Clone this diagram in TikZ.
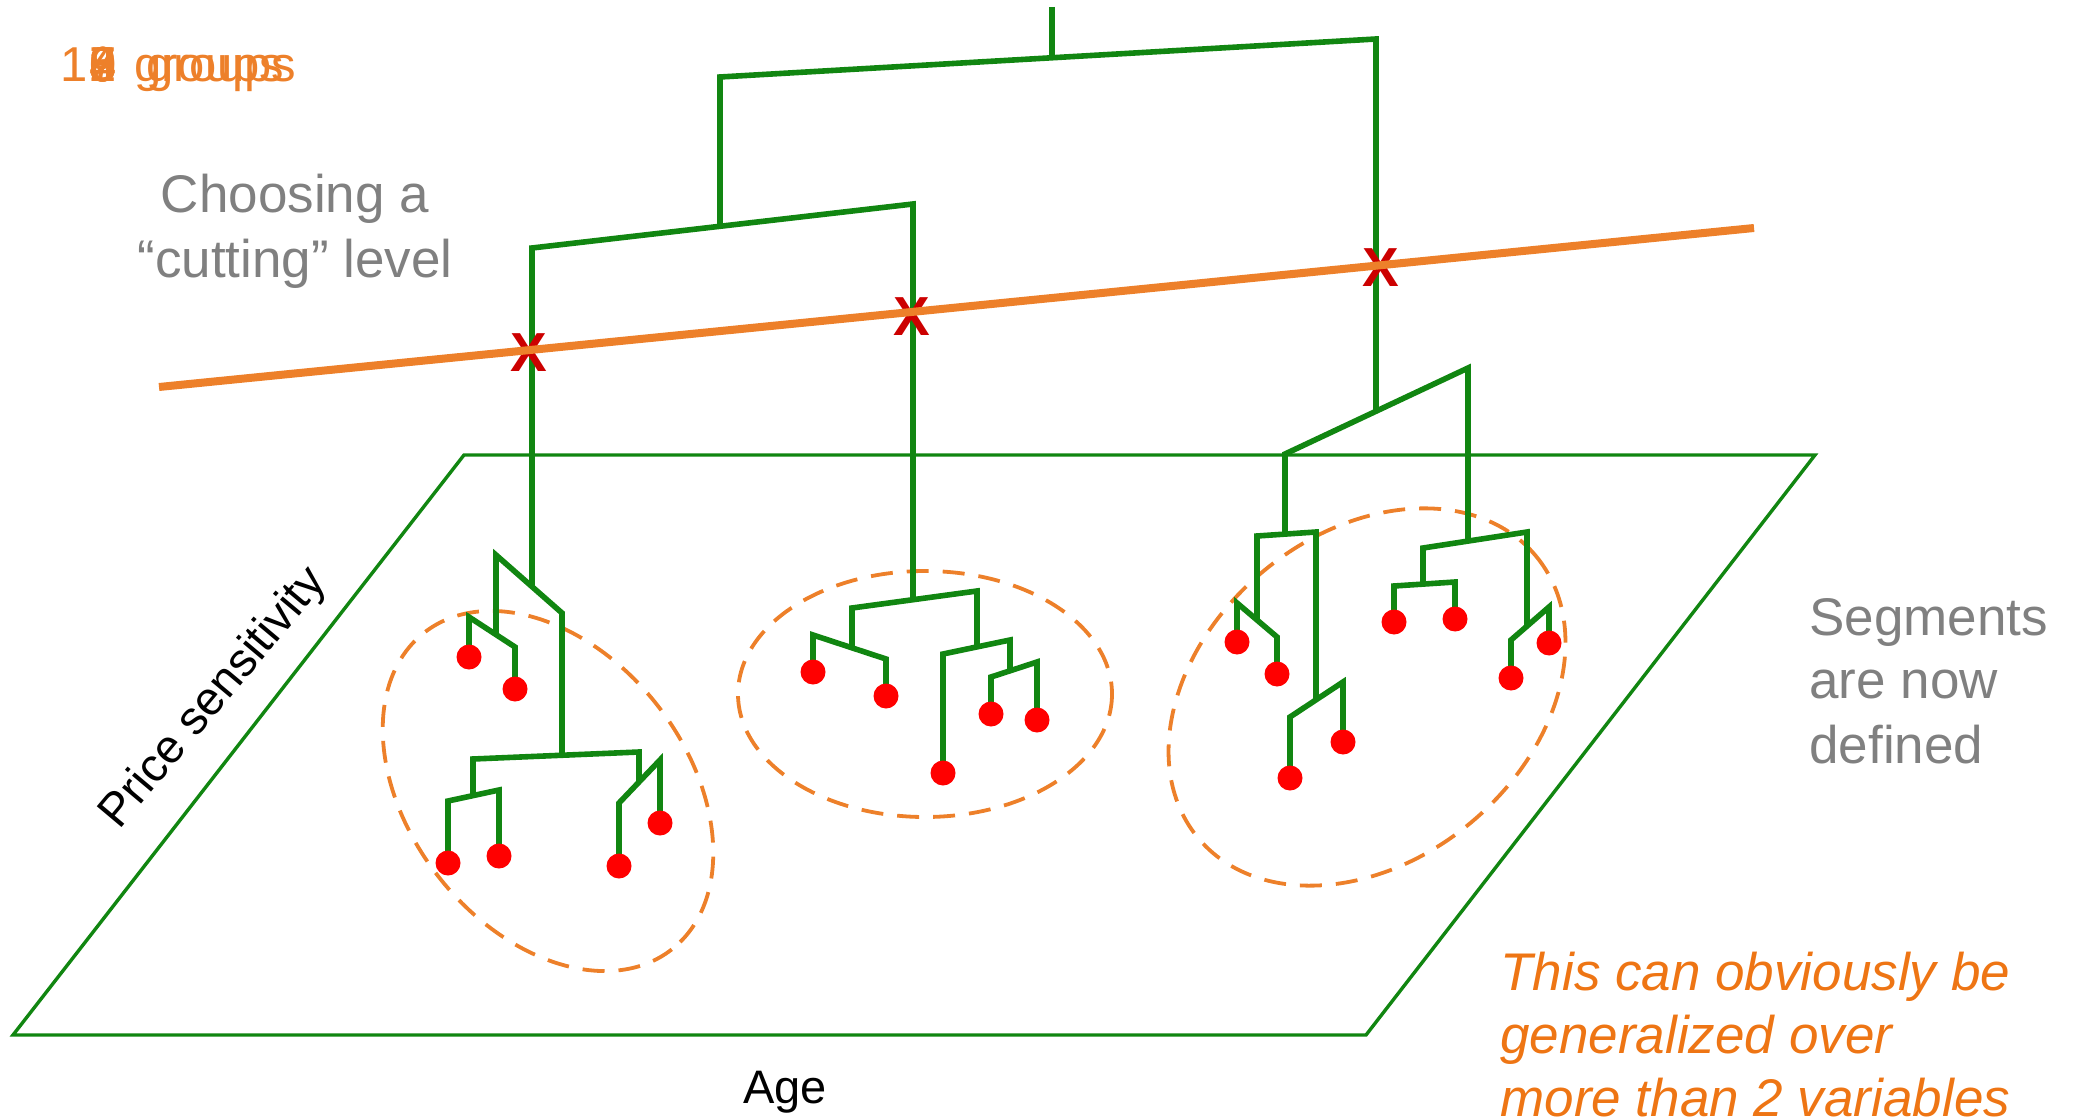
\documentclass[tikz,border=0pt]{standalone}
\usepackage{fontspec}
\setmainfont{Liberation Sans}
\definecolor{dgreen}{RGB}{17,134,17}
\definecolor{leafred}{RGB}{255,0,0}
\definecolor{crossred}{RGB}{204,0,0}
\definecolor{cutorange}{RGB}{237,128,42}
\definecolor{noteorange}{RGB}{238,117,20}
\definecolor{txtgray}{RGB}{128,128,128}
\begin{document}
\begin{tikzpicture}[x=0.5pt,y=-0.5pt,
  br/.style={draw=dgreen, line width=2.8pt},
  plane/.style={draw=dgreen, line width=1.7pt, line join=miter},
  leaf/.style={circle, fill=leafred, minimum size=12.5pt, inner sep=0pt},
  cluster/.style={draw=cutorange, line width=1.9pt, dash pattern=on 11pt off 7pt},
  cutline/.style={draw=cutorange, line width=4pt},
  xmark/.style={text=crossred, font=\bfseries\fontsize{27.5}{30}\selectfont, inner sep=0pt},
  graytxt/.style={text=txtgray, font=\fontsize{26.5}{32.5}\selectfont, inner sep=0pt},
  notetxt/.style={text=noteorange, font=\itshape\fontsize{26.5}{31.5}\selectfont, inner sep=0pt, anchor=base west},
  axistxt/.style={text=black, font=\fontsize{23.5}{28}\selectfont, inner sep=0pt},
  grptxt/.style={text=cutorange, font=\fontsize{24.5}{29}\selectfont, inner sep=0pt, anchor=base west}
]
\useasboundingbox (0,0) rectangle (2080,1117);

% plane
\draw[plane] (464,455) -- (1815,455) -- (1366,1035) -- (13,1035) -- cycle;

% dashed cluster ellipses
\draw[cluster, shift={(548,791)}, rotate=-52] (0,0) ellipse [x radius=201, y radius=139];
\draw[cluster, shift={(925,694)}] (0,0) ellipse [x radius=187, y radius=123];
\draw[cluster, shift={(1367,697)}, rotate=40] (0,0) ellipse [x radius=220, y radius=163];

% leaf coordinates
\coordinate (a1) at (469,657);
\coordinate (a2) at (515,689);
\coordinate (a3) at (448,863);
\coordinate (a4) at (499,856);
\coordinate (a5) at (619,866);
\coordinate (a6) at (660,823);
\coordinate (b1) at (813,672);
\coordinate (b2) at (886,696);
\coordinate (b3) at (943,773);
\coordinate (b4) at (991,714);
\coordinate (b5) at (1037,720);
\coordinate (c1) at (1237,642);
\coordinate (c2) at (1277,674);
\coordinate (c3) at (1290,778);
\coordinate (c4) at (1343,742);
\coordinate (c5) at (1394,622);
\coordinate (c6) at (1455,619);
\coordinate (c7) at (1511,678);
\coordinate (c8) at (1549,643);
\coordinate (root) at (1052,7);

% dendrogram: top levels
\draw[br] (root) -- (1052,58);
\draw[br] (720,226) -- (720,77) -- (1376,39) -- (1376,411);
\draw[br] (532,587) -- (532,248) -- (913,204) -- (913,600);

% left cluster
\draw[br] (496,635) -- (496,555) -- (562,613) -- (562,755);
\draw[br] (a1) -- (469,617) -- (515,647) -- (a2);
\draw[br] (473,796) -- (473,759) -- (639,752) -- (639,782);
\draw[br] (a3) -- (448,801) -- (499,790) -- (a4);
\draw[br] (a5) -- (619,803) -- (660,760) -- (a6);

% middle cluster
\draw[br] (852,648) -- (852,608) -- (977,591) -- (977,647);
\draw[br] (b1) -- (813,635) -- (886,659) -- (b2);
\draw[br] (b3) -- (943,654) -- (1010,640) -- (1010,671);
\draw[br] (b4) -- (991,677) -- (1037,662) -- (b5);

% right cluster
\draw[br] (1285,534) -- (1285,454) -- (1468,368) -- (1468,541);
\draw[br] (1257,620) -- (1257,536) -- (1316,532) -- (1316,700);
\draw[br] (c1) -- (1237,603) -- (1277,637) -- (c2);
\draw[br] (c3) -- (1290,717) -- (1343,682) -- (c4);
\draw[br] (1423,584) -- (1423,548) -- (1527,532) -- (1527,626);
\draw[br] (c5) -- (1394,586) -- (1455,582) -- (c6);
\draw[br] (c7) -- (1511,640) -- (1549,607) -- (c8);

% leaves
\foreach \p in {a1,a2,a3,a4,a5,a6,b1,b2,b3,b4,b5,c1,c2,c3,c4,c5,c6,c7,c8}
  \node[leaf] (dot-\p) at (\p) {};

% cut marks
\node[xmark] (x1) at (529,353) {X};
\node[xmark] (x2) at (912,317) {X};
\node[xmark] (x3) at (1381,268) {X};

% cutting level
\coordinate (cutL) at (159,387);
\coordinate (cutR) at (1754,228);
\draw[cutline] (cutL) -- (cutR);

% texts
\node[graytxt, anchor=base] (t1) at (295,213) {Choosing a};
\node[graytxt, anchor=base] (t2) at (295,278) {“cutting” level};
\node[graytxt, anchor=base west] (s1) at (1809,635) {Segments};
\node[graytxt, anchor=base west] (s2) at (1809,698) {are now};
\node[graytxt, anchor=base west] (s3) at (1809,763) {defined};
\node[notetxt] (n1) at (1500,990) {This can obviously be};
\node[notetxt] (n2) at (1500,1053) {generalized over};
\node[notetxt] (n3) at (1500,1116) {more than 2 variables};
\node[axistxt, anchor=base] (age) at (785,1103) {Age};
\node[axistxt, rotate=50] (price) at (214,699) {Price sensitivity};

% overlapping group counters
\node[grptxt] (g0) at (60,82) {1};
\foreach \d in {0,2,3,4,5,6,7,8,9}
  \node[grptxt] (gd\d) at (89,82) {\d};
\node[grptxt] (g1) at (134,82) {groups};
\node[grptxt] (g2) at (146,82) {groups};
\end{tikzpicture}
\end{document}
